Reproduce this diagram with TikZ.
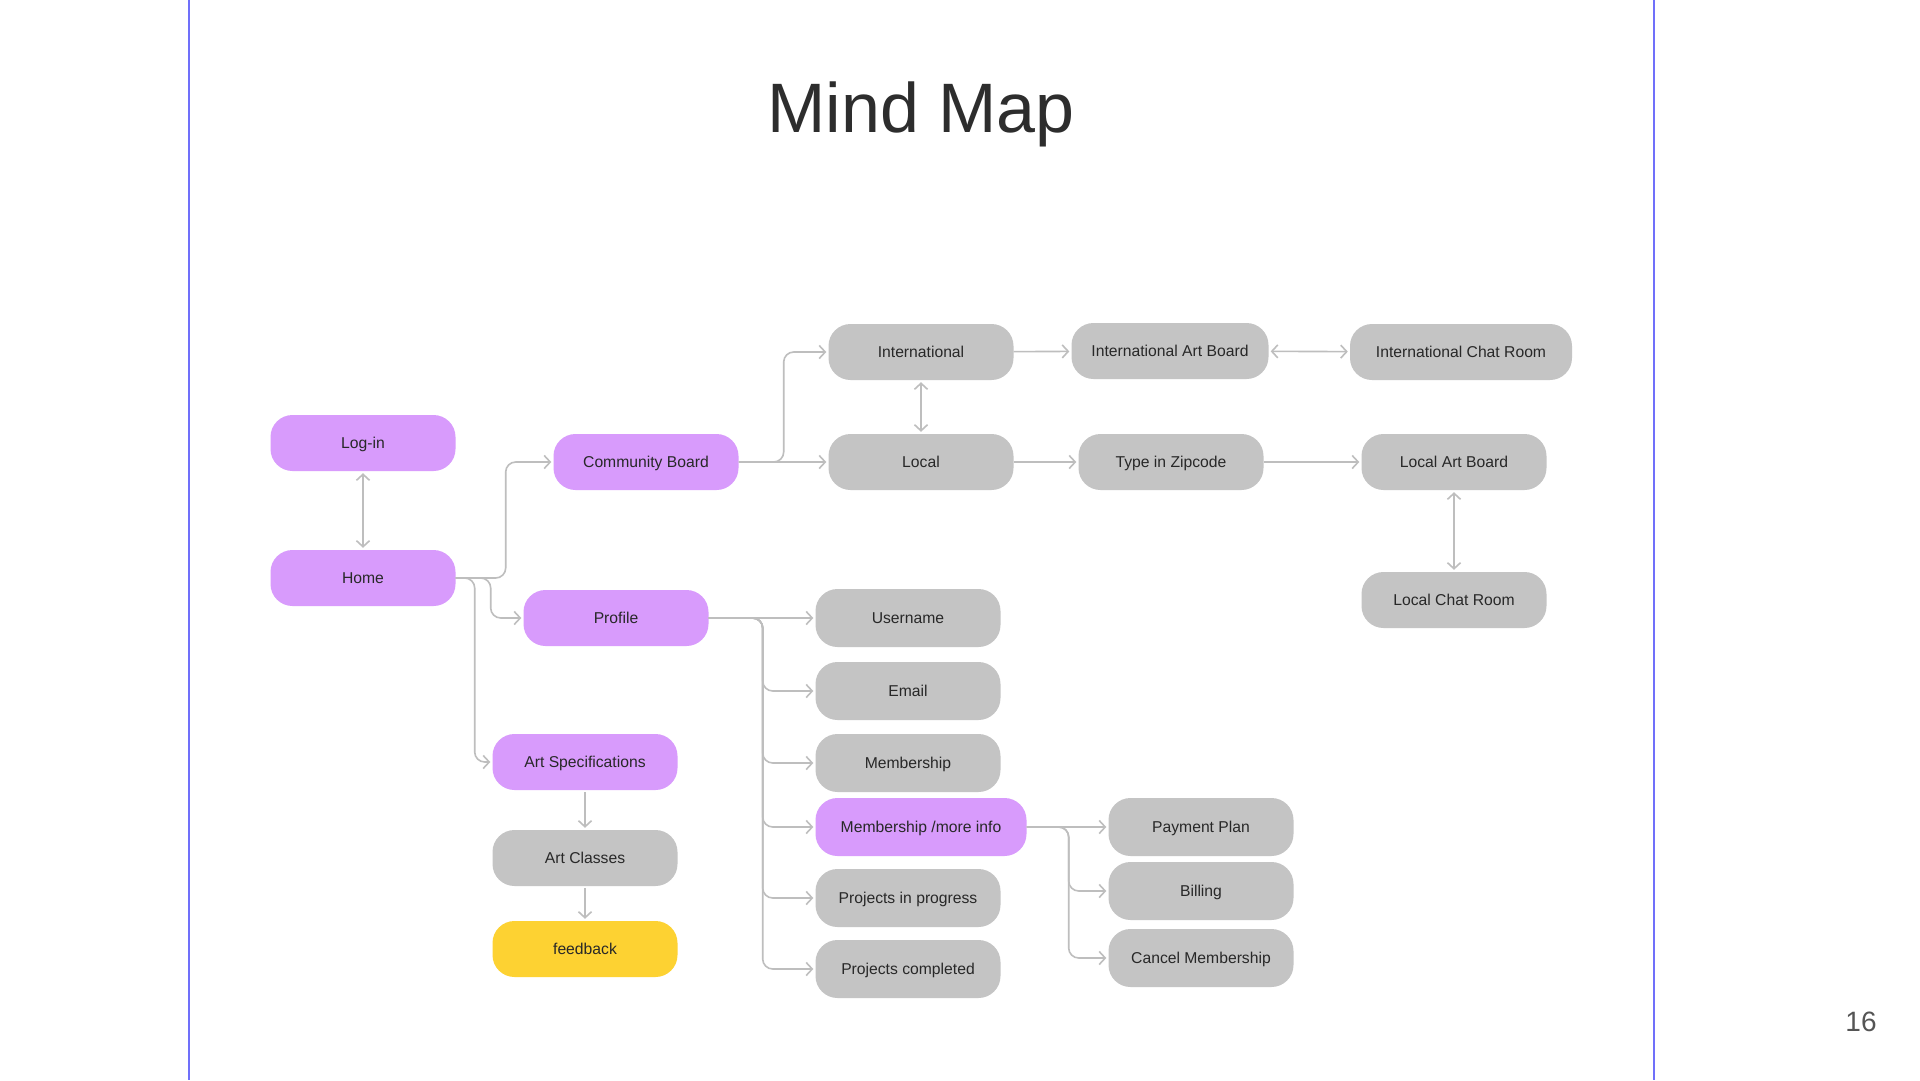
\documentclass[tikz,border=0pt]{standalone}
\usepackage{fontspec}
\setmainfont{Liberation Sans}
\usetikzlibrary{arrows.meta}

\definecolor{mmpurple}{RGB}{216,155,252}
\definecolor{mmgrey}{RGB}{196,196,196}
\definecolor{mmyellow}{RGB}{253,210,50}
\definecolor{mmline}{RGB}{190,190,190}
\definecolor{mmframe}{RGB}{112,112,250}
\definecolor{mmtext}{RGB}{40,40,40}

\begin{document}
\begin{tikzpicture}[
		x=1pt, y=-1pt
		,every node/.style={font=\fontsize{15.7}{18}\selectfont, text=mmtext}
		,box/.style={rounded corners=22pt, minimum width=185pt, minimum height=56pt,
			inner sep=0pt, text height=13pt, text depth=2pt}
		,pinkbox/.style={box, fill=mmpurple}
		,greybox/.style={box, fill=mmgrey}
		,yellowbox/.style={box, fill=mmyellow}
		,link/.style={draw=mmline, line width=1.6pt, rounded corners=10pt, shorten >=2pt,
			-{Straight Barb[length=6pt,width=13pt]}}
		,twoway/.style={link, shorten <=2pt,
			{Straight Barb[length=6pt,width=13pt]}-{Straight Barb[length=6pt,width=13pt]}}
	]
		\fill[white] (0,0) rectangle (1920,1080);
		\useasboundingbox (0,0) rectangle (1920,1080);
		\draw[mmframe, line width=2pt] (189,0) -- (189,1080);
		\draw[mmframe, line width=2pt] (1654,0) -- (1654,1080);

		\node[anchor=base, font=\fontsize{70}{80}\selectfont, text={rgb,255:red,45;green,45;blue,45}] (title) at (921,132) {Mind Map};
		\node[anchor=base, font=\fontsize{28}{32}\selectfont, text={rgb,255:red,85;green,85;blue,85}] (pageno) at (1861,1031) {16};

		% left column
		\node[pinkbox] (login) at (363,443) {Log-in};
		\node[pinkbox] (home) at (363,578) {Home};

		% community board
		\node[pinkbox] (cb) at (646,462) {Community Board};
		\node[greybox] (intl) at (921,352) {International};
		\node[greybox] (local) at (921,462) {Local};
		\node[greybox, minimum width=197pt] (iab) at (1170,351) {International Art Board};
		\node[greybox, minimum width=222pt] (icr) at (1461,352) {International Chat Room};
		\node[greybox] (zip) at (1171,462) {Type in Zipcode};
		\node[greybox] (lab) at (1454,462) {Local Art Board};
		\node[greybox] (lcr) at (1454,600) {Local Chat Room};

		% profile
		\node[pinkbox] (profile) at (616,618) {Profile};
		\node[greybox, minimum height=58pt] (user) at (908,618) {Username};
		\node[greybox, minimum height=58pt] (email) at (908,691) {Email};
		\node[greybox, minimum height=58pt] (member) at (908,763) {Membership};
		\node[pinkbox, minimum height=58pt, minimum width=211pt] (more) at (921,827) {Membership /more info};
		\node[greybox, minimum height=58pt] (inprog) at (908,898) {Projects in progress};
		\node[greybox, minimum height=58pt] (done) at (908,969) {Projects completed};
		\node[greybox, minimum height=58pt] (pay) at (1201,827) {Payment Plan};
		\node[greybox, minimum height=58pt] (bill) at (1201,891) {Billing};
		\node[greybox, minimum height=58pt] (cancel) at (1201,958) {Cancel Membership};

		% art
		\node[pinkbox] (spec) at (585,762) {Art Specifications};
		\node[greybox] (classes) at (585,858) {Art Classes};
		\node[yellowbox] (feedback) at (585,949) {feedback};

		\draw[twoway] (login) -- (home);
		\draw[link] (home.east) -- ([xshift=50pt]home.east) |- (cb.west);
		\draw[link] (home.east) -- ([xshift=35pt]home.east) |- (profile.west);
		\draw[link] (home.east) -- ([xshift=19pt]home.east) |- (spec.west);

		\draw[link] (cb.east) -- ([xshift=45pt]cb.east) |- (intl.west);
		\draw[link] (cb) -- (local);
		\draw[twoway] (intl) -- (local);
		\draw[link] (intl) -- (iab);
		\draw[twoway] (iab) -- (icr);
		\draw[link] (local) -- (zip);
		\draw[link] (zip) -- (lab);
		\draw[twoway] (lab) -- (lcr);

		\draw[link] (profile) -- (user);
		\draw[link] (profile.east) -- ([xshift=54pt]profile.east) |- (email.west);
		\draw[link] (profile.east) -- ([xshift=54pt]profile.east) |- (member.west);
		\draw[link] (profile.east) -- ([xshift=54pt]profile.east) |- (more.west);
		\draw[link] (profile.east) -- ([xshift=54pt]profile.east) |- (inprog.west);
		\draw[link] (profile.east) -- ([xshift=54pt]profile.east) |- (done.west);

		\draw[link] (more) -- (pay);
		\draw[link] (more.east) -- ([xshift=42pt]more.east) |- (bill.west);
		\draw[link] (more.east) -- ([xshift=42pt]more.east) |- (cancel.west);

		\draw[link, shorten <=2pt] (spec) -- (classes);
		\draw[link, shorten <=2pt] (classes) -- (feedback);
	\end{tikzpicture}
\end{document}
